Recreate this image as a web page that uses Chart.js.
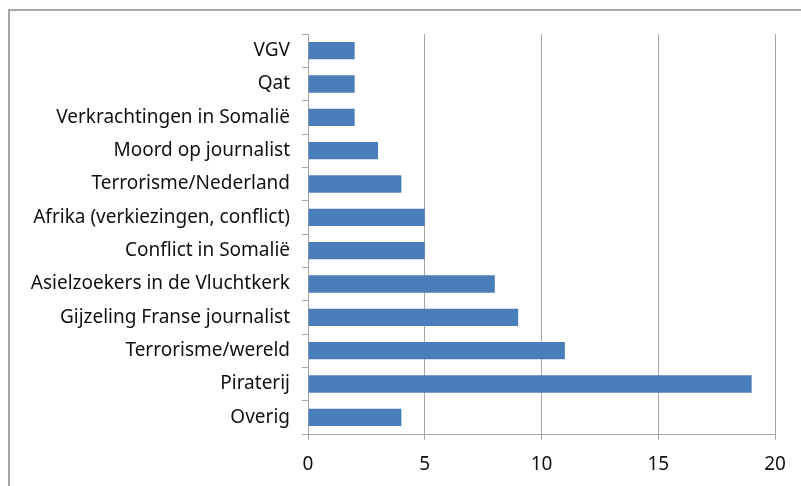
<!DOCTYPE html>
<html>
<head>
<meta charset="utf-8">
<script src="https://cdn.jsdelivr.net/npm/chart.js@4"></script>
<style>
  html, body { margin: 0; padding: 0; background: #fff; }
  #wrap { position: relative; width: 801px; height: 486px; }
  #frame { position: absolute; left: 8px; top: 9px; right: 0; bottom: 0; border-top: 2px solid #a6a6a6; border-left: 2px solid #a6a6a6; }
  canvas { position: absolute; left: 0; top: 0; }
</style>
</head>
<body>
<div id="wrap">
  <div id="frame"></div>
  <canvas id="chart" width="801" height="486"></canvas>
</div>
<script>
// DATA
const categories = [
  'VGV',
  'Qat',
  'Verkrachtingen in Somalië',
  'Moord op journalist',
  'Terrorisme/Nederland',
  'Afrika (verkiezingen, conflict)',
  'Conflict in Somalië',
  'Asielzoekers in de Vluchtkerk',
  'Gijzeling Franse journalist',
  'Terrorisme/wereld',
  'Piraterij',
  'Overig'
];
const counts = [2, 2, 2, 3, 4, 5, 5, 8, 9, 11, 19, 4];
const xTicks = [0, 5, 10, 15, 20];

const GRID = '#a6a6a6';
const FONT = { family: '"Noto Sans", sans-serif', size: 19 };

new Chart(document.getElementById('chart'), {
  type: 'bar',
  data: {
    labels: categories,
    datasets: [{
      data: counts,
      backgroundColor: '#4a7ebb',
      borderWidth: 0,
      barPercentage: 0.52,
      categoryPercentage: 1
    }]
  },
  options: {
    indexAxis: 'y',
    responsive: false,
    animation: false,
    layout: { padding: { top: 34, right: 26, bottom: 0, left: 0 } },
    plugins: { legend: { display: false }, tooltip: { enabled: false } },
    scales: {
      x: {
        min: 0, max: 20,
        afterBuildTicks: s => { s.ticks = xTicks.map(v => ({ value: v })); },
        afterFit: s => { s.height = 52; },
        grid: { color: GRID, lineWidth: 1, tickLength: 6, tickColor: GRID },
        border: { color: GRID, width: 1 },
        ticks: { color: '#111', font: FONT, padding: 13, maxRotation: 0 }
      },
      y: {
        afterFit: s => { s.width = 308; },
        grid: { display: true, drawOnChartArea: false, offset: true, tickLength: 6, color: GRID },
        border: { color: GRID, width: 1 },
        ticks: { color: '#111', font: FONT, padding: 12, autoSkip: false }
      }
    }
  }
});
</script>
</body>
</html>
